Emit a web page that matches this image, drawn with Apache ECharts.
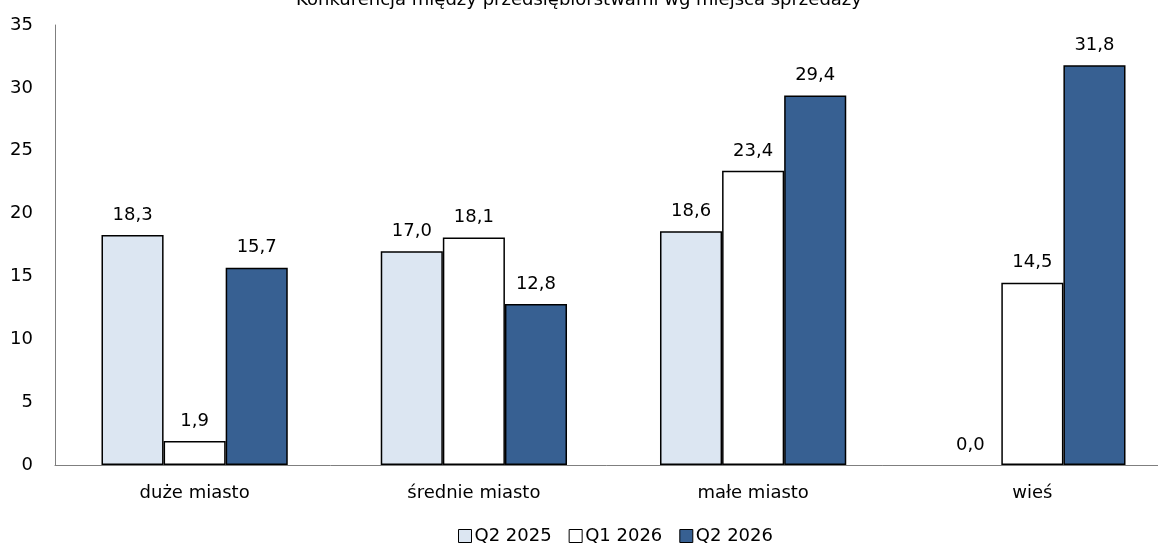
<!DOCTYPE html>
<html><head><meta charset="utf-8">
<script src="https://cdn.jsdelivr.net/npm/echarts@6/dist/echarts.min.js"></script>
<style>html,body{margin:0;padding:0;background:#fff}#c{width:1158px;height:548px}</style>
</head><body><div id="c"></div>
<script>
const categories = ['duże miasto', 'średnie miasto', 'małe miasto', 'wieś'];
const seriesNames = ['Q2 2025', 'Q1 2026', 'Q2 2026'];
const q2_2025 = [18.3, 17.0, 18.6, 0.0];
const q1_2026 = [1.9, 18.1, 23.4, 14.5];
const q2_2026 = [15.7, 12.8, 29.4, 31.8];
const yTicks = [0, 5, 10, 15, 20, 25, 30, 35];
const colors = ['#dce6f2', '#ffffff', '#376092'];
const titleText = 'Konkurencja między przedsiębiorstwami wg miejsca sprzedaży';

const font = "'DejaVu Sans', Verdana, sans-serif";
const fs = 18;
const chart = echarts.init(document.getElementById('c'));
const values = [q2_2025, q1_2026, q2_2026];
chart.setOption({
  animation: false,
  textStyle: {fontFamily: font},
  title: {text: titleText, left: 'center', top: -14,
    textStyle: {fontFamily: font, fontSize: fs, fontWeight: 'normal', color: '#000'}},
  grid: {left: 55, width: 1117, top: 25, bottom: 83, containLabel: false, outerBoundsMode: 'none'},
  legend: {top: 527, left: 458, padding: 0, itemWidth: 13, itemHeight: 13, itemGap: 17,
    textStyle: {fontFamily: font, fontSize: fs, color: '#000', padding: [0, 0, 0, -2]},
    data: seriesNames.map((n, i) => ({name: n, icon: 'rect',
      itemStyle: {color: colors[i], borderColor: '#000', borderWidth: 1}}))},
  xAxis: {type: 'category', data: categories,
    axisLine: {lineStyle: {color: '#7f7f7f'}}, axisTick: {show: false},
    axisLabel: {fontFamily: font, fontSize: fs, color: '#000', margin: 19}},
  yAxis: {type: 'value', min: 0, max: 35, interval: 5,
    axisLine: {show: true, lineStyle: {color: '#7f7f7f'}}, axisTick: {show: false},
    splitLine: {show: false},
    axisLabel: {fontFamily: font, fontSize: fs, color: '#000', margin: 22,
      formatter: v => yTicks.includes(v) ? String(v) : ''}},
  series: values.map((d, i) => ({
    name: seriesNames[i], type: 'bar',
    data: d.map(v => v === 0 ? {value: v, itemStyle: {borderWidth: 0}} : v),
    barGap: '0%', barCategoryGap: '33.3%',
    itemStyle: {color: colors[i], borderColor: '#000', borderWidth: 1.5},
    label: {show: true, position: 'top', distance: 11, fontFamily: font, fontSize: fs, color: '#000',
      formatter: p => p.value.toFixed(1).replace('.', ',')}
  }))
});
</script></body></html>
